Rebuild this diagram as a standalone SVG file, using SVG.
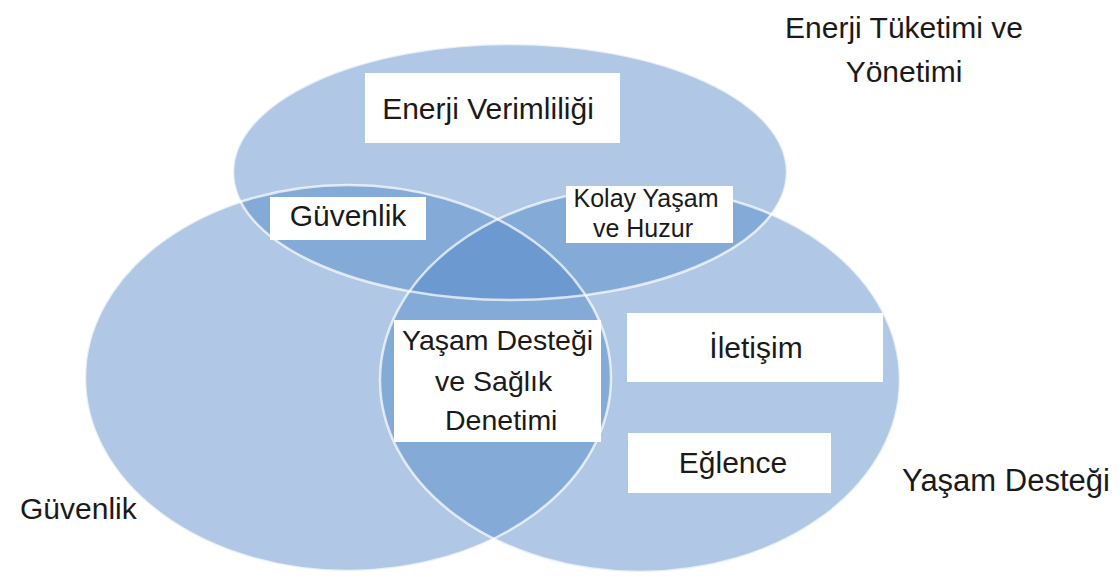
<svg xmlns="http://www.w3.org/2000/svg" width="1120" height="580" viewBox="0 0 1120 580">
  <style>
    .set { fill: #4f86c6; fill-opacity: 0.45; }
    .rim { fill: none; stroke: #ffffff; stroke-opacity: 0.7; stroke-width: 2.5; }
    .box { fill: #ffffff; }
    .lbl { font-family: "Liberation Sans", Arial, sans-serif; font-size: 30px; fill: #1a1a1a; }
    .sm { font-size: 25px; }
    .md { font-size: 28.5px; }
    .mid { text-anchor: middle; }
  </style>
  <rect width="1120" height="580" fill="#ffffff"/>

  <!-- three overlapping sets -->
  <g id="sets">
    <ellipse id="set-energy" class="set" cx="510" cy="172" rx="277" ry="128"/>
    <ellipse id="set-security" class="set" cx="348" cy="378" rx="263" ry="193"/>
    <ellipse id="set-life" class="set" cx="640" cy="380" rx="260" ry="192"/>
  </g>
  <!-- light rims drawn over every overlap -->
  <g id="connectors">
    <ellipse class="rim" cx="510" cy="172" rx="277" ry="128"/>
    <ellipse class="rim" cx="348" cy="378" rx="263" ry="193"/>
    <ellipse class="rim" cx="640" cy="380" rx="260" ry="192"/>
  </g>

  <g id="node-enerji-verimliligi">
    <rect class="box" x="365" y="73" width="255" height="70"/>
    <text class="lbl mid" x="488" y="119">Enerji Verimliliği</text>
  </g>

  <g id="node-guvenlik-inner">
    <rect class="box" x="270" y="197" width="156" height="43"/>
    <text class="lbl mid" x="348" y="226">Güvenlik</text>
  </g>

  <g id="node-kolay-yasam">
    <rect class="box" x="566" y="186" width="167" height="57"/>
    <text class="lbl sm mid" x="646" y="207">Kolay Yaşam</text>
    <text class="lbl sm mid" x="643" y="237">ve Huzur</text>
  </g>

  <g id="node-yasam-destegi-saglik">
    <rect class="box" x="394" y="320" width="207" height="122"/>
    <text class="lbl md" x="402" y="350">Yaşam Desteği</text>
    <text class="lbl md" x="435" y="391">ve Sağlık</text>
    <text class="lbl md" x="445" y="430">Denetimi</text>
  </g>

  <g id="node-iletisim">
    <rect class="box" x="627" y="313" width="256" height="69"/>
    <text class="lbl mid" x="756" y="358">İletişim</text>
  </g>

  <g id="node-eglence">
    <rect class="box" x="628" y="433" width="203" height="60"/>
    <text class="lbl mid" x="733" y="473">Eğlence</text>
  </g>

  <g id="label-enerji-tuketimi">
    <text class="lbl mid" x="904" y="38">Enerji Tüketimi ve</text>
    <text class="lbl mid" x="904" y="82">Yönetimi</text>
  </g>

  <g id="label-guvenlik">
    <text class="lbl" x="20" y="519">Güvenlik</text>
  </g>

  <g id="label-yasam-destegi">
    <text class="lbl" x="902" y="491" style="font-size:31px">Yaşam Desteği</text>
  </g>
</svg>
